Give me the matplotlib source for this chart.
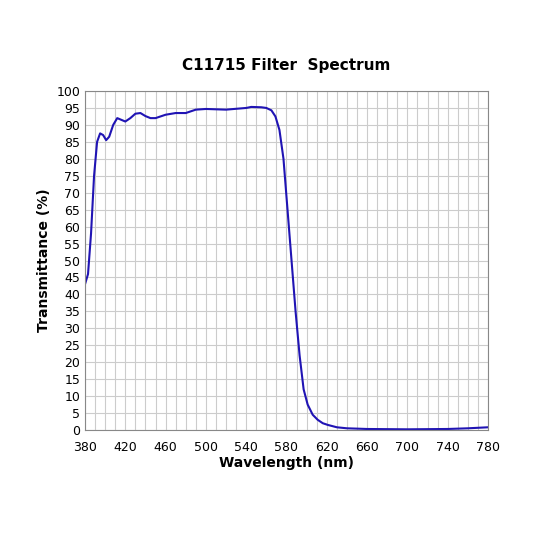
import matplotlib
matplotlib.use("Agg")
import matplotlib.pyplot as plt
import numpy as np

wl = [380,383,386,389,392,395,398,401,404,408,412,416,420,425,430,435,440,445,450,455,460,470,480,490,500,520,540,545,555,560,565,569,573,577,581,585,589,593,597,601,606,611,616,621,630,640,660,700,740,760,780]
tr = [43,46,58,75,85,87.5,87,85.5,86.5,90,92,91.5,91,92,93.3,93.5,92.6,92,92,92.5,93,93.5,93.5,94.5,94.7,94.5,95,95.3,95.2,95,94.3,92.5,88.5,80,65,50,35,22,12,7.5,4.5,3,2,1.5,0.8,0.5,0.3,0.2,0.3,0.5,0.8]

fig = plt.figure(figsize=(5.33,5.33), dpi=100)
ax = fig.add_axes([85/533, 1-430/533, 403/533, 339/533])
ax.plot(wl, tr, color="#2014b4", lw=1.5)
ax.set_xlim(380,780); ax.set_ylim(0,100)
ax.set_xticks(np.arange(380,781,40))
ax.set_xticks(np.arange(380,781,10), minor=True)
ax.set_yticks(np.arange(0,101,5))
ax.grid(True, which="both", color="#cccccc", lw=0.8)
ax.tick_params(which="both", length=0, labelsize=9)
ax.tick_params(axis="x", pad=8)
for s in ax.spines.values(): s.set_color("#888888")
ax.set_xlabel("Wavelength (nm)", fontsize=10, fontweight="bold", labelpad=1)
ax.set_ylabel("Transmittance (%)", fontsize=10, fontweight="bold")
ax.set_title("C11715 Filter  Spectrum", fontsize=11, fontweight="bold", pad=15)
fig.savefig("out.png", dpi=100)
